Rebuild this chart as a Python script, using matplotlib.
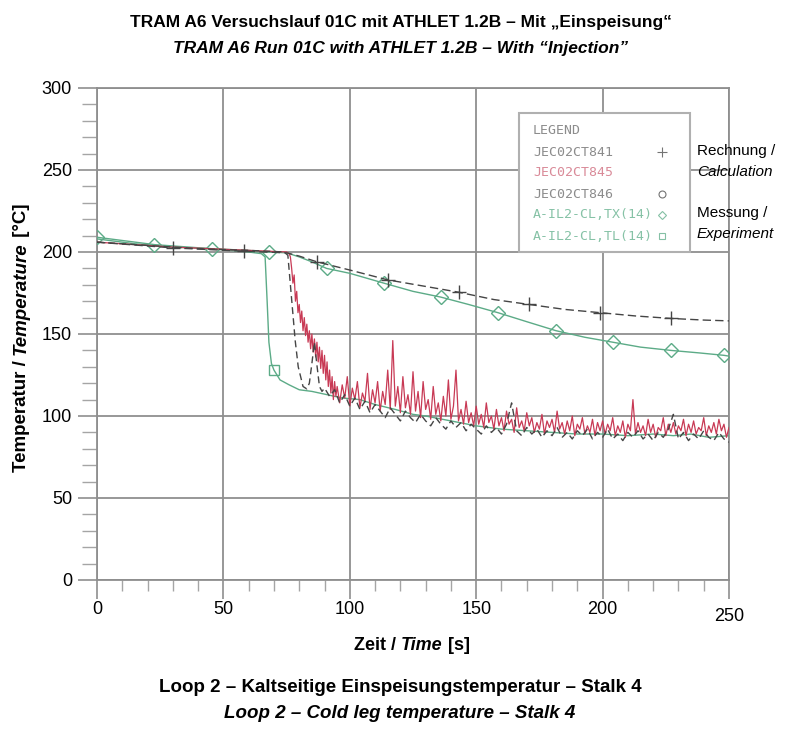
import matplotlib
matplotlib.use("Agg")
import matplotlib.pyplot as plt
import numpy as np
from matplotlib.lines import Line2D
from matplotlib.patches import Rectangle

BOLDFONT = ['Liberation Sans Narrow', 'Liberation Sans', 'DejaVu Sans']
plt.rcParams['font.family'] = ['Liberation Sans', 'DejaVu Sans']

# ---- data ----
# JEC02CT841 (calculation, dashed, "+")
t_841 = [0, 30, 58, 75, 80, 87, 100, 115, 130, 143, 157, 171, 185, 199, 213, 227, 240, 250]
T_841 = [206, 202.5, 200.5, 199.5, 197.5, 194, 189, 183, 179, 175.5, 171, 168, 165, 163, 161, 159.5, 158.5, 158]
mk_841 = [1, 2, 5, 7, 9, 11, 13, 15]

# JEC02CT845 (calculation, red, noisy)
t_845_early = [0, 30, 60, 75]
T_845_early = [206, 203, 201, 200]
T_845_drop = [199, 197, 190, 181, 186, 170, 176, 163, 168, 157, 164, 152, 160, 149, 156, 145,
              152, 141, 150, 139, 147, 136, 145, 133, 142, 129, 140, 126, 137, 122, 133, 118,
              128, 114, 124, 110, 121, 112, 118]          # from t=76, every 0.5 s
T_845_tail = [108, 119, 111, 124, 106, 117, 110, 121, 105, 114, 109, 126, 104, 116, 108,
              121, 103, 115, 107, 128, 104, 146, 106, 118, 102, 124, 105, 113, 101, 127,
              103, 115, 99, 121, 104, 110, 98, 118, 101, 108, 97, 112, 100, 122, 98,
              106, 128, 97, 104, 95, 109, 96, 102, 94, 106, 95, 101, 93, 108, 96,
              100, 92, 104, 94, 99, 91, 103, 95, 98, 90, 105, 93, 97, 91, 102,
              94, 99, 90, 96, 92, 101, 89, 97, 93, 98, 90, 103, 92, 96, 89,
              97, 91, 100, 88, 95, 92, 99, 89, 94, 90, 98, 88, 96, 91, 97,
              89, 95, 91, 99, 88, 94, 90, 97, 87, 95, 91, 110, 89, 96, 90,
              94, 88, 98, 90, 95, 87, 93, 91, 99, 88, 95, 90, 96, 89, 94,
              91, 98, 88, 95, 90, 97, 89, 93, 91, 99, 88, 94, 90, 96, 89, 98, 91, 95, 87, 93]  # from t=96, every 1 s

# JEC02CT846 (calculation, dashed, "o")
t_846_head = [0, 20, 40, 60, 74, 75.5, 77, 78.4, 79.6, 81.5, 83, 84, 85, 86, 87, 88, 89, 90]
T_846_head = [206, 204, 202, 201, 200, 198, 171, 146, 130, 118, 116.5, 120, 132, 145, 131, 118, 115, 117]
T_846_tail = [112, 116, 108, 113, 106, 111, 104, 109, 102, 107, 103, 99, 105, 101, 97, 103,
              99, 96, 101, 97, 94, 99, 95, 92, 97, 93, 96, 91, 95, 92, 89, 94,
              90, 93, 89, 95, 108, 91, 88, 93, 89, 92, 87, 91, 88, 93, 87, 90,
              86, 91, 88, 92, 86, 90, 87, 92, 86, 89, 85, 90, 87, 91, 86, 89,
              85, 90, 87, 92, 101, 86, 90, 85, 89, 86, 91, 87, 85, 90, 86, 84]  # from t=92, every 2 s

# A-IL2-CL,TX(14) (experiment, green, diamonds)
t_tx = [0, 22.7, 45.4, 60, 68, 75, 80, 85, 90.8, 100, 113.5, 125, 136, 147, 158.6, 170,
        181.6, 193, 204, 215, 227, 238, 248, 250]
T_tx = [209, 204.5, 202, 201, 200, 199.5, 197, 194, 190, 187, 181, 176, 172.5, 168, 163,
        157.5, 152, 148, 145, 142, 140, 138.5, 137, 136.5]
mk_tx = [0, 1, 2, 4, 8, 10, 12, 14, 16, 18, 20, 22]

# A-IL2-CL,TL(14) (experiment, green, squares)
t_tl = [0, 15, 30, 45, 60, 65, 66.5, 67.3, 68, 69, 70, 72.4, 76, 80, 85, 91, 97, 104, 110,
        118, 125, 130, 140, 150, 160, 170, 180, 190, 200, 210, 220, 228, 235, 242, 250]
T_tl = [208, 205, 203, 202, 200, 199, 197, 170, 145, 132, 128, 122, 119, 116, 115, 113, 111,
        110, 107, 104, 101, 100, 97, 94, 92, 91, 90, 89, 89, 88, 89, 88, 89, 87, 88]
mk_tl = [10]

legend_labels = ['JEC02CT841', 'JEC02CT845', 'JEC02CT846', 'A-IL2-CL,TX(14)', 'A-IL2-CL,TL(14)']

C_CALC = '#454545'
C_RED = '#c83a55'
C_GREEN = '#5cab87'
C_GRID = '#8f8f8f'

W, H = 802, 731
fig = plt.figure(figsize=(W / 100, H / 100), dpi=100)
ax = fig.add_axes([97 / W, 1 - 580 / H, 632 / W, 492 / H])


def fx(px):
    return px / W


def fy(py):
    return 1 - py / H


t_845 = list(t_845_early) + list(76 + 0.5 * np.arange(len(T_845_drop))) + list(96 + np.arange(len(T_845_tail)))
T_845 = T_845_early + T_845_drop + T_845_tail
t_846 = list(t_846_head) + list(92 + 2 * np.arange(len(T_846_tail)))
T_846 = T_846_head + T_846_tail

ax.plot(t_tl, T_tl, color=C_GREEN, lw=1.0, marker='s', markevery=mk_tl, ms=7,
        mfc='none', mec=C_GREEN, zorder=3)
ax.plot(t_tx, T_tx, color=C_GREEN, lw=1.0, marker='D', markevery=mk_tx, ms=7,
        mfc='none', mec=C_GREEN, zorder=3)
ax.plot(t_845, T_845, color=C_RED, lw=0.9, zorder=4)
ax.plot(t_846, T_846, color=C_CALC, lw=1.0, ls=(0, (5, 3)), zorder=5)
ax.plot(t_841, T_841, color=C_CALC, lw=1.0, ls=(0, (6, 3)), marker='+', markevery=mk_841,
        ms=10, mew=1.0, zorder=5)

ax.set_xlim(0, 250)
ax.set_ylim(0, 300)
ax.set_xticks(range(0, 251, 50))
ax.set_yticks(range(0, 301, 50))
ax.set_xticks(range(0, 251, 10), minor=True)
ax.set_yticks(range(0, 301, 10), minor=True)
ax.tick_params(which='major', direction='out', length=14, width=1.2, color=C_GRID, labelsize=13)
ax.tick_params(axis='x', which='major', pad=1)
ax.tick_params(axis='y', which='major', pad=4)
ax.tick_params(axis='x', which='minor', direction='out', length=8, width=1.0, color='#a5a5a5')
ax.tick_params(axis='y', which='minor', direction='out', length=10.5, width=1.0, color='#a5a5a5')
ax.grid(which='major', color=C_GRID, lw=1.3)
for sp in ax.spines.values():
    sp.set_color(C_GRID)
    sp.set_linewidth(1.3)
ax.xaxis.get_major_ticks()[-1].set_pad(6)

# legend box as drawn by the plotter
fig.add_artist(Rectangle((fx(519), fy(252)), fx(690) - fx(519), fy(113) - fy(252),
                         facecolor='white', edgecolor='#b0b0b0', lw=1.5, zorder=10))
rows = [152, 173, 194, 215, 236]
label_colors = ['#8c8c8c', '#d98a98', '#8c8c8c', '#86c2a6', '#86c2a6']
handles = [dict(marker='+', color=C_CALC, ms=7),
           None,
           dict(marker='o', color=C_CALC, ms=5),
           dict(marker='D', color=C_GREEN, ms=4.5),
           dict(marker='s', color=C_GREEN, ms=5)]
fig.text(fx(533), fy(130), 'LEGEND', family='DejaVu Sans Mono', fontsize=9.5,
         color='#8c8c8c', va='center', ha='left', zorder=11)
for lab, row, col, hd in zip(legend_labels, rows, label_colors, handles):
    fig.text(fx(533), fy(row), lab, family='DejaVu Sans Mono', fontsize=9.5,
             color=col, va='center', ha='left', zorder=11)
    if hd is not None:
        fig.add_artist(Line2D([fx(662)], [fy(row)], ls='none', marker=hd['marker'],
                              ms=hd['ms'], mfc='none', mec=hd['color'], mew=0.8,
                              alpha=0.75, zorder=11))

# bracket annotations to the right of the legend
for y0, y1 in [(143, 179), (205, 241)]:
    fig.add_artist(Line2D([fx(680), fx(685), fx(685), fx(680)],
                          [fy(y0), fy(y0), fy(y1), fy(y1)], color='black', lw=2.8,
                          solid_joinstyle='miter'))
fig.text(fx(697), fy(151), 'Rechnung /', fontsize=11, va='center', ha='left')
fig.text(fx(697), fy(172), 'Calculation', fontsize=11, va='center', ha='left', style='italic')
fig.text(fx(697), fy(213), 'Messung /', fontsize=11, va='center', ha='left')
fig.text(fx(697), fy(234), 'Experiment', fontsize=11, va='center', ha='left', style='italic')

# titles and captions
fig.text(0.5, fy(22), 'TRAM A6 Versuchslauf 01C mit ATHLET 1.2B – Mit „Einspeisung“',
         family=BOLDFONT, weight='bold', fontsize=12.5, ha='center', va='center')
fig.text(0.5, fy(48), 'TRAM A6 Run 01C with ATHLET 1.2B – With “Injection”',
         family=BOLDFONT, weight='bold', style='italic', fontsize=12.5, ha='center', va='center')
fig.text(fx(400), fy(688), 'Loop 2 – Kaltseitige Einspeisungstemperatur – Stalk 4',
         family=BOLDFONT, weight='bold', fontsize=13.5, ha='center', va='center')
fig.text(fx(400), fy(714), 'Loop 2 – Cold leg temperature – Stalk 4',
         family=BOLDFONT, weight='bold', style='italic', fontsize=13.5, ha='center', va='center')


def mixed(parts, cx, cy, size, rotation=0):
    r = fig.canvas.get_renderer()
    items = []
    for s, st in parts:
        t = fig.text(0, 0, s, family=BOLDFONT, weight='bold', style=st, fontsize=size,
                     rotation=rotation, rotation_mode='anchor', ha='left', va='center')
        bb = t.get_window_extent(r)
        items.append((t, bb.width if rotation == 0 else bb.height))
    total = sum(w for _, w in items)
    if rotation == 0:
        pos = cx - total / 2
        for t, w in items:
            t.set_position((fx(pos), fy(cy)))
            pos += w
    else:
        pos = cy + total / 2
        for t, w in items:
            t.set_position((fx(cx), fy(pos)))
            pos -= w


mixed([('Zeit / ', 'normal'), ('Time', 'italic'), (' [s]', 'normal')], 412, 645, 13)
mixed([('Temperatur / ', 'normal'), ('Temperature', 'italic'), (' [°C]', 'normal')], 21, 338, 13.5,
      rotation=90)

fig.savefig('out.png', dpi=100)
